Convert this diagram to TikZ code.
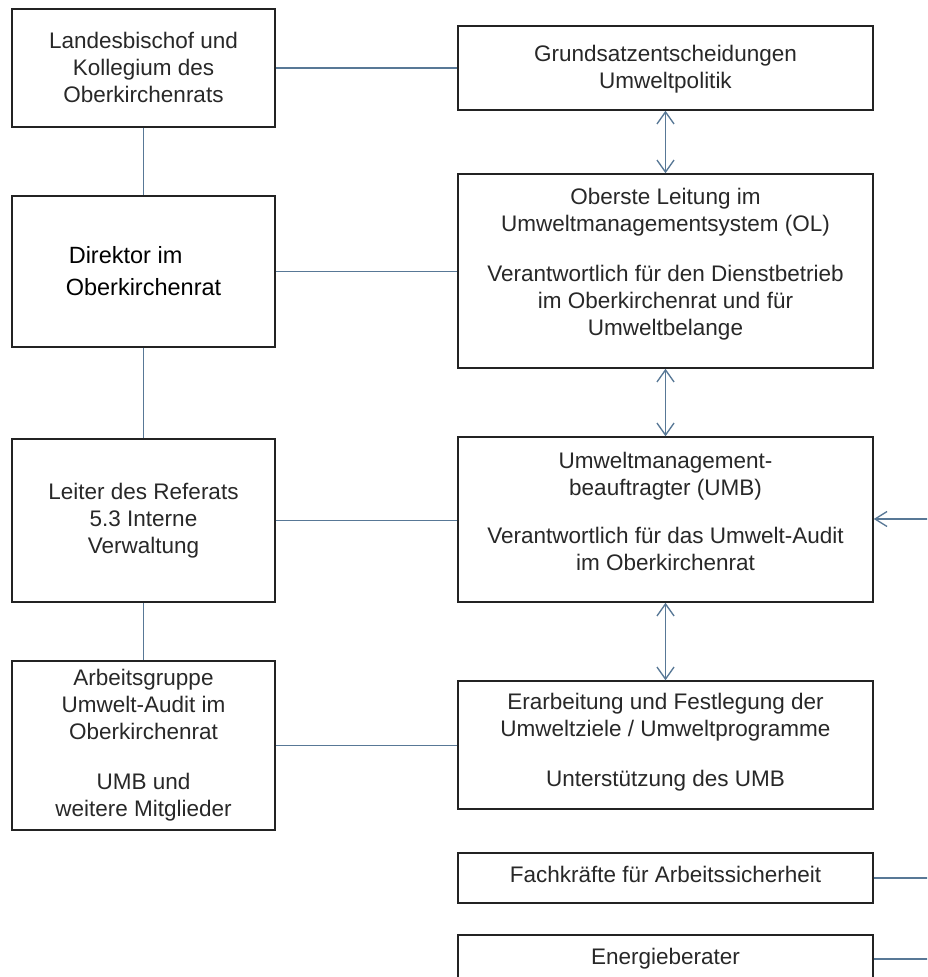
\documentclass[tikz,border=0pt]{standalone}
\usepackage{fontspec}
\setmainfont{Liberation Sans}
\usetikzlibrary{arrows.meta}
\definecolor{conncol}{RGB}{88,120,150}
\definecolor{boxline}{RGB}{35,35,35}
\definecolor{txtcol}{RGB}{40,40,40}
\begin{document}
\begin{tikzpicture}[x=1pt,y=-1pt,
  box/.style={draw=boxline, line width=1.5pt, rectangle, inner sep=0pt, align=center, text=txtcol, font=\fontsize{22.5}{27}\selectfont},
  lbox/.style={box, minimum width=263pt},
  rbox/.style={box, minimum width=415pt},
  connline/.style={draw=conncol, line width=1.35pt},
  biarrow/.style={connline, {Straight Barb[length=12pt,width=17pt]}-{Straight Barb[length=12pt,width=17pt]}},
  inarrow/.style={connline, -{Straight Barb[length=12pt,width=15pt]}}
]
\useasboundingbox (0,0) rectangle (927,977);
\clip (0,0) rectangle (927,977);
\fill[white] (0,0) rectangle (927,977);

\node[lbox, minimum height=118pt] (A) at (143.5,68) {Landesbischof und\\Kollegium des\\Oberkirchenrats\rule[-2pt]{0pt}{2pt}};
\node[rbox, minimum height=84pt] (B) at (665.5,68) {\rule{0pt}{19.5pt}Grundsatzentscheidungen\\Umweltpolitik};
\node[rbox, minimum height=194pt] (C) at (665.5,271) {Oberste Leitung im\\Umweltmanagementsystem (OL)\\[23pt]Verantwortlich für den Dienstbetrieb\\im Oberkirchenrat und für\\Umweltbelange\rule[-19pt]{0pt}{19pt}};
\node[lbox, minimum height=151pt, align=left, text=black, font=\fontsize{23.5}{32}\selectfont] (D) at (143.5,271.5) {\hspace*{3pt}Direktor im\\Oberkirchenrat};
\node[lbox, minimum height=163pt] (E) at (143.5,520.5) {Leiter des Referats\\5.3 Interne\\Verwaltung};
\node[rbox, minimum height=165pt] (F) at (665.5,519.5) {Umweltmanagement-\\beauftragter (UMB)\\[21pt]Verantwortlich für das Umwelt-Audit\\im Oberkirchenrat\rule[-17pt]{0pt}{17pt}};
\node[lbox, minimum height=169pt] (G) at (143.5,745.5) {Arbeitsgruppe\\Umwelt-Audit im\\Oberkirchenrat\\[23pt]UMB und\\weitere Mitglieder};
\node[rbox, minimum height=128pt] (H) at (665.5,745) {Erarbeitung und Festlegung der\\Umweltziele / Umweltprogramme\\[23pt]Unterstützung des UMB\rule[-10.7pt]{0pt}{10.7pt}};
\node[rbox, minimum height=50pt] (I) at (665.5,878) {Fachkräfte für Arbeitssicherheit\rule[-8pt]{0pt}{8pt}};
\node[rbox, minimum height=65pt] (J) at (665.5,967.5) {Energieberater\rule[-23.3pt]{0pt}{23.3pt}};

\coordinate (R1) at (930,519);
\coordinate (R2) at (930,877);
\coordinate (R3) at (930,959);

\draw[connline] (A) -- (B);
\draw[connline] (A) -- (D);
\draw[connline] (D.east) -- (D.east -| C.west);
\draw[connline] (D) -- (E);
\draw[connline] (E.east) -- (E.east -| F.west);
\draw[connline] (E) -- (G);
\draw[connline] (G.east) -- (G.east -| H.west);
\draw[biarrow] (B) -- (C);
\draw[biarrow] (C) -- (F);
\draw[biarrow] (F) -- (H);
\draw[inarrow] (R1) -- (R1 -| F.east);
\draw[connline] (I.east) -- (I.east -| R2);
\draw[connline] (R3 -| J.east) -- (R3);
\end{tikzpicture}
\end{document}
